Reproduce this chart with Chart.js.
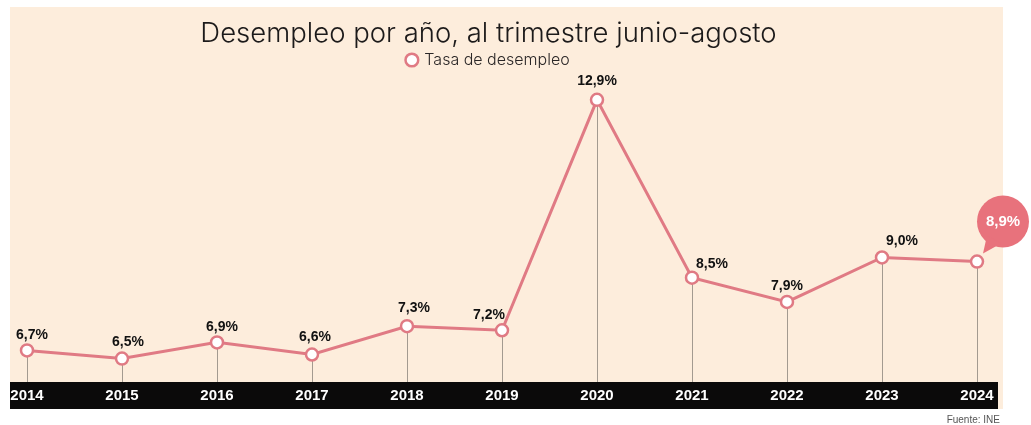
<!DOCTYPE html>
<html>
<head>
<meta charset="utf-8">
<script src="https://cdn.jsdelivr.net/npm/chart.js@4.4.1/dist/chart.umd.min.js"></script>
<style>
  html, body { margin: 0; padding: 0; background: #fff; }
  #wrap { width: 1031px; height: 425px; }
</style>
</head>
<body>
<div id="wrap"><canvas id="unemploymentChart"></canvas></div>
<script>
const years = ['2014', '2015', '2016', '2017', '2018', '2019', '2020', '2021', '2022', '2023', '2024'];
const rates = [6.7, 6.5, 6.9, 6.6, 7.3, 7.2, 12.9, 8.5, 7.9, 9.0, 8.9];

const pink = '#e07a84';
const cream = '#fdeddc';

function fmt(v) {
  return v.toFixed(1).replace('.', ',') + '%';
}

// nudges for value labels so they clear the line
const labelDx = [5, 6, 5, 3, 7, -13, 0, 20, 0, 20];
const labelDy = [-15, -16, -15, -17, -18, -15, -19, -14, -16, -16];

// panel, black band under the axis, drop lines
const backdrop = {
  id: 'backdrop',
  beforeDraw(chart) {
    const ctx = chart.ctx;
    const area = chart.chartArea;
    ctx.save();
    ctx.fillStyle = cream;
    ctx.fillRect(10, 7, 993, area.bottom + 27 - 7);
    ctx.fillStyle = '#0b0a0a';
    ctx.fillRect(10, area.bottom, 988, 27);
    ctx.restore();
  },
  beforeDatasetsDraw(chart) {
    const ctx = chart.ctx;
    const meta = chart.getDatasetMeta(0);
    const bottom = chart.chartArea.bottom;
    ctx.save();
    ctx.strokeStyle = '#a39a90';
    ctx.lineWidth = 1;
    meta.data.forEach(pt => {
      ctx.beginPath();
      ctx.moveTo(Math.round(pt.x) + 0.5, pt.y);
      ctx.lineTo(Math.round(pt.x) + 0.5, bottom);
      ctx.stroke();
    });
    ctx.restore();
  },
  afterDraw(chart) {
    const ctx = chart.ctx;
    const meta = chart.getDatasetMeta(0);
    ctx.save();
    ctx.textAlign = 'center';
    ctx.textBaseline = 'middle';
    meta.data.forEach((pt, i) => {
      if (i === meta.data.length - 1) return;
      ctx.fillStyle = '#111';
      ctx.font = 'bold 14px "Liberation Sans", Arial, sans-serif';
      ctx.fillText(fmt(rates[i]), pt.x + labelDx[i], pt.y + labelDy[i]);
    });
    // bubble for the latest value
    const last = meta.data[meta.data.length - 1];
    const cx = last.x + 26, cy = last.y - 40, r = 26;
    ctx.fillStyle = '#e8727c';
    ctx.beginPath();
    ctx.arc(cx, cy, r, 0, Math.PI * 2);
    ctx.fill();
    ctx.beginPath();
    ctx.moveTo(cx - 16, cy + 14);
    ctx.lineTo(last.x + 6, last.y - 8);
    ctx.lineTo(cx - 2, cy + 22);
    ctx.closePath();
    ctx.fill();
    ctx.fillStyle = '#fff';
    ctx.font = 'bold 15px "Liberation Sans", Arial, sans-serif';
    ctx.fillText(fmt(rates[rates.length - 1]), cx, cy);
    // source
    ctx.textAlign = 'right';
    ctx.fillStyle = '#555';
    ctx.font = '10px "Liberation Sans Narrow", "Liberation Sans", sans-serif';
    ctx.fillText('Fuente: INE', 1000, 420);
    ctx.restore();
  }
};

new Chart(document.getElementById('unemploymentChart'), {
  type: 'line',
  data: {
    labels: years,
    datasets: [{
      label: 'Tasa de desempleo',
      data: rates,
      borderColor: pink,
      borderWidth: 3,
      pointRadius: 6,
      pointBorderWidth: 2.5,
      pointBackgroundColor: '#fff',
      pointBorderColor: pink,
      tension: 0
    }]
  },
  options: {
    responsive: true,
    maintainAspectRatio: false,
    animation: false,
    layout: { padding: { left: 0, right: 54, top: 13, bottom: 15 } },
    plugins: {
      title: {
        display: true,
        text: 'Desempleo por año, al trimestre junio-agosto',
        color: '#1c1a1a',
        font: { family: 'Inter', size: 27.5, weight: 300 },
        padding: { top: 4, bottom: 2 }
      },
      legend: {
        display: true,
        labels: {
          usePointStyle: true,
          pointStyle: 'circle',
          boxWidth: 9,
          boxHeight: 9,
          padding: 0,
          color: '#2a2626',
          font: { family: 'Inter', size: 16, weight: 300 }
        }
      },
      tooltip: { enabled: false }
    },
    scales: {
      x: {
        grid: { display: false, drawTicks: false },
        border: { display: false },
        ticks: {
          color: '#fff',
          padding: 5,
          maxRotation: 0,
          font: { family: '"Liberation Sans", Arial, sans-serif', size: 15, weight: 'bold' }
        }
      },
      y: {
        min: 5.92,
        max: 13.44,
        grid: { display: false },
        border: { display: false },
        ticks: { display: false },
        afterFit(scale) { scale.width = 27; }
      }
    }
  },
  plugins: [backdrop]
});
</script>
</body>
</html>
